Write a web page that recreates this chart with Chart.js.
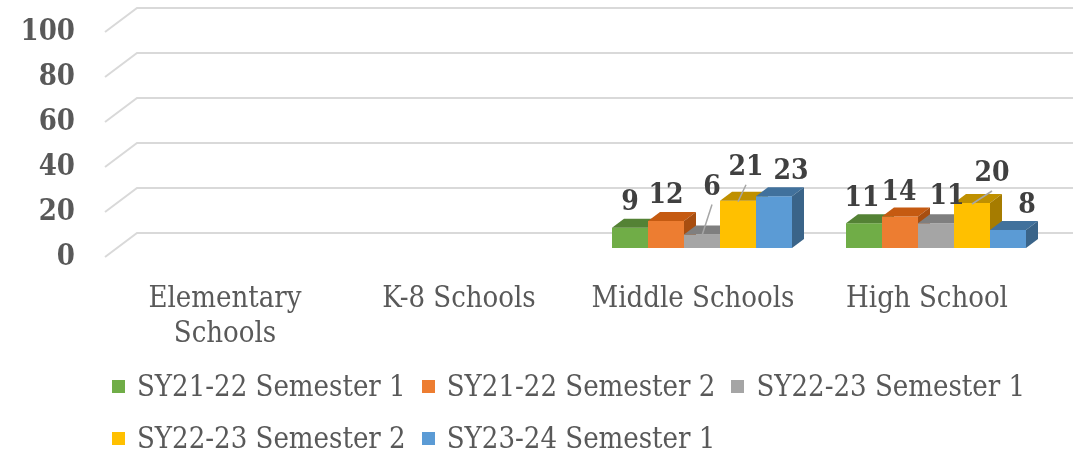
<!DOCTYPE html>
<html>
<head>
<meta charset="utf-8">
<script src="https://cdn.jsdelivr.net/npm/chart.js@4.4.0/dist/chart.umd.min.js"></script>
<style>
  html, body { margin: 0; padding: 0; background: #fff; }
  #wrap { position: relative; width: 1073px; height: 454px; }
  #legend { position: absolute; left: 112px; top: 360px; width: 955px; display: flex; flex-wrap: wrap;
    font-family: 'DejaVu Serif Condensed', 'DejaVu Serif', serif; font-size: 29px; color: #595959; }
  .li { display: flex; align-items: center; height: 52px; margin-right: 16px; white-space: nowrap; }
  .sw { width: 13px; height: 13px; margin-right: 12px; }
</style>
</head>
<body>
<div id="wrap">
  <canvas id="c" width="1073" height="454"></canvas>
  <div id="legend"></div>
</div>
<script>
const categories = [['Elementary', 'Schools'], 'K-8 Schools', 'Middle Schools', 'High School'];
const seriesNames = ['SY21-22 Semester 1', 'SY21-22 Semester 2', 'SY22-23 Semester 1', 'SY22-23 Semester 2', 'SY23-24 Semester 1'];
const sy2122s1 = [null, null, 9, 11];
const sy2122s2 = [null, null, 12, 14];
const sy2223s1 = [null, null, 6, 11];
const sy2223s2 = [null, null, 21, 20];
const sy2324s1 = [null, null, 23, 8];
const yTicks = [0, 20, 40, 60, 80, 100];

const frontColors = ['#70AD47', '#ED7D31', '#A5A5A5', '#FFC000', '#5B9BD5'];
const topColors   = ['#548235', '#C55A11', '#7F7F7F', '#BF9000', '#41719C'];
const sideColors  = ['#4A7530', '#A84E10', '#6E6E6E', '#A67C00', '#3A6489'];

// label nudges (px) relative to default placement above each bar; third entry = draw leader line
const labelNudge = [
  [null, null, [0, 0, 0], [-2, 0, 0]],
  [null, null, [0, 0, 0], [-1, 1, 0]],
  [null, null, [10, -22, 1], [11, -2, 0]],
  [null, null, [8, -8, 1], [20, -4, 1]],
  [null, null, [17, 0, 0], [19, 1, 0]]
];

const seriesValues = [sy2122s1, sy2122s2, sy2223s1, sy2223s2, sy2324s1];
const FONT = "'DejaVu Serif Condensed', 'DejaVu Serif', serif";
const DX = 12, DY = 9;          // bar 3D depth
const WALL_DX = 20, WALL_DY = 15, FRONT_DX = -12, FRONT_DY = 9;

const threeD = {
  id: 'threeD',
  beforeDatasetsDraw(chart) {
    const ctx = chart.ctx, y = chart.scales.y, area = chart.chartArea;
    ctx.save();
    ctx.strokeStyle = '#D9D9D9';
    ctx.lineWidth = 2;
    yTicks.forEach(v => {
      const py = y.getPixelForValue(v);
      ctx.beginPath();
      ctx.moveTo(area.left + FRONT_DX, py + FRONT_DY);
      ctx.lineTo(area.left + WALL_DX, py - WALL_DY);
      ctx.lineTo(chart.width, py - WALL_DY);
      ctx.stroke();
    });
    const n = categories.length;
    for (let c = 0; c < n; c++) {
      for (let d = 0; d < seriesValues.length; d++) {
        const el = chart.getDatasetMeta(d).data[c];
        if (!el || seriesValues[d][c] == null) continue;
        const x0 = el.x - el.width / 2, x1 = el.x + el.width / 2, t = el.y, b = el.base;
        ctx.fillStyle = frontColors[d];
        ctx.fillRect(x0, t, x1 - x0, b - t);
        ctx.fillStyle = topColors[d];
        ctx.beginPath();
        ctx.moveTo(x0, t); ctx.lineTo(x1, t); ctx.lineTo(x1 + DX, t - DY); ctx.lineTo(x0 + DX, t - DY);
        ctx.closePath(); ctx.fill();
        ctx.fillStyle = sideColors[d];
        ctx.beginPath();
        ctx.moveTo(x1, t); ctx.lineTo(x1 + DX, t - DY); ctx.lineTo(x1 + DX, b - DY); ctx.lineTo(x1, b);
        ctx.closePath(); ctx.fill();
      }
    }
    ctx.restore();
    return false;
  },
  afterDraw(chart) {
    const ctx = chart.ctx;
    ctx.save();
    ctx.font = "bold 28px " + FONT;
    ctx.fillStyle = '#404040';
    ctx.textAlign = 'center';
    ctx.textBaseline = 'middle';
    for (let d = 0; d < seriesValues.length; d++) {
      const meta = chart.getDatasetMeta(d);
      meta.data.forEach((el, c) => {
        const v = seriesValues[d][c];
        if (v == null) return;
        const nud = labelNudge[d][c] || [0, 0, 0];
        const lx = el.x + nud[0], ly = el.y - 25 + nud[1];
        if (nud[2]) {
          ctx.strokeStyle = '#A6A6A6';
          ctx.lineWidth = 1.5;
          ctx.beginPath();
          ctx.moveTo(lx, ly + 17);
          ctx.lineTo(el.x, el.y + 1);
          ctx.stroke();
        }
        ctx.fillText(String(v), lx, ly);
      });
    }
    ctx.restore();
  }
};

new Chart(document.getElementById('c'), {
  type: 'bar',
  data: {
    labels: categories,
    datasets: seriesValues.map((vals, i) => ({
      label: seriesNames[i],
      data: vals,
      backgroundColor: frontColors[i],
      categoryPercentage: 180 / 234,
      barPercentage: 1
    }))
  },
  options: {
    responsive: false,
    animation: false,
    layout: { padding: { top: 23, right: 20, left: 0, bottom: 0 } },
    plugins: { legend: { display: false }, tooltip: { enabled: false } },
    scales: {
      x: {
        grid: { display: false, drawTicks: false },
        border: { display: false },
        ticks: {
          maxRotation: 0, autoSkip: false, padding: 34, labelOffset: -9,
          color: '#595959', font: { family: FONT, size: 29, lineHeight: 35 / 29 }
        },
        afterFit: s => { s.height = 206; s.paddingLeft = 0; s.paddingRight = 0; }
      },
      y: {
        min: 0, max: 100,
        afterBuildTicks: s => { s.ticks = yTicks.map(v => ({ value: v })); },
        grid: { display: false, drawTicks: false },
        border: { display: false },
        ticks: {
          autoSkip: false, padding: 42, labelOffset: 9,
          color: '#595959', font: { family: FONT, size: 29, weight: 'bold' }
        },
        afterFit: s => { s.width = 117; s.paddingTop = 0; s.paddingBottom = 0; }
      }
    }
  },
  plugins: [threeD]
});

const lg = document.getElementById('legend');
seriesNames.forEach((name, i) => {
  const item = document.createElement('div');
  item.className = 'li';
  const sw = document.createElement('span');
  sw.className = 'sw';
  sw.style.background = frontColors[i];
  const tx = document.createElement('span');
  tx.textContent = name;
  item.appendChild(sw); item.appendChild(tx);
  lg.appendChild(item);
});
</script>
</body>
</html>
